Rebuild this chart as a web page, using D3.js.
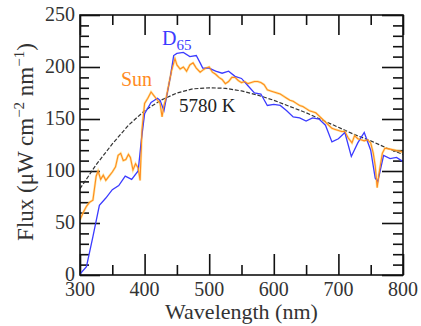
<!DOCTYPE html>
<html>
<head>
<meta charset="utf-8">
<script src="https://cdn.jsdelivr.net/npm/d3@7"></script>
<style>
  body { margin: 0; background: #fff; }
  svg { display: block; }
  text { font-family: "Liberation Serif", "DejaVu Serif", serif; }
</style>
</head>
<body>
<svg id="chart" width="421" height="326"></svg>
<script>
// wavelength (nm) / flux values
var d65Wl   = [300,310,320,330,340,350,360,370,380,390,395,400,410,420,424,430,440,445,450,460,470,480,486,490,500,510,520,530,540,550,560,570,580,590,600,610,620,630,640,650,660,670,680,690,700,710,720,730,740,750,757,761,770,780,790,800];
var d65Flux = [1,8,37,67,74,82,86,95,92,100,130,155,166,170,168,158,191,211,213,214,210,211,204,199,199,196,194,196,191,189,182,175,174,163,164,163,158,152,151,148,151,150,144,128,131,137,114,127,137,120,93,90,115,112,113,109];

var sunWl   = [300,305,310,315,320,325,328,332,336,340,345,350,355,359,363,367,371,375,378,382,386,390,393,396,400,405,410,415,420,424,427,430,434,438,442,447,450,455,460,465,470,475,480,486,490,495,500,505,510,515,520,525,530,535,540,545,550,555,560,565,570,575,580,585,590,595,600,605,610,615,620,625,630,635,640,645,650,655,660,665,670,675,680,685,690,695,700,705,710,715,721,725,730,735,740,745,750,754,757,760,763,768,772,780,788,795,800];
var sunFlux = [53,60,66,70,72,95,100,92,96,91,95,99,104,115,117,110,111,116,113,101,107,103,91,140,165,170,176,172,168,165,152,163,172,185,197,208,202,198,200,196,202,204,199,195,197,199,200,195,193,190,188,184,186,190,190,187,185,186,184,185,186,186,185,183,178,177,176,175,174,172,170,168,167,165,163,162,160,158,157,156,153,150,147,144,141,140,139,138,138,132,127,134,131,130,129,130,127,117,105,84,98,117,122,121,120,119,118];

var bbWl   = [300,325,350,375,400,425,450,475,500,525,550,575,600,625,650,675,700,725,750,775,800];
var bbFlux = [83,106,126,144,158,168,175,179,180,179.5,177,173,168,162,156,149,142,135,129,122,116];

var xMajor = [300,400,500,600,700,800];
var yMajor = [0,50,100,150,200,250];

var svg = d3.select("#chart");
// plot box (window.top is read-only, so no bare "top")
var box = { left: 80, right: 403, top: 15, bottom: 275 };

var x = d3.scaleLinear().domain([300, 800]).range([box.left, box.right]);
var y = d3.scaleLinear().domain([0, 250]).range([box.bottom, box.top]);

var xMinor = d3.range(350, 800, 100);
var yMinor = d3.range(0, 251, 10).filter(function(v) { return v % 50 != 0; });

// ticks pointing inwards on all four sides
function drawAxis(axis, tx, ty) {
  svg.append("g")
    .attr("transform", "translate(" + tx + "," + ty + ")")
    .call(axis)
    .call(function(g) {
      g.select(".domain").remove();
      g.selectAll("line").attr("stroke", "#111").attr("stroke-width", 1.6);
      g.selectAll("text").remove();
    });
}
drawAxis(d3.axisBottom(x).tickValues(xMajor).tickSize(-21), 0, box.bottom);
drawAxis(d3.axisBottom(x).tickValues(xMinor).tickSize(-10), 0, box.bottom);
drawAxis(d3.axisTop(x).tickValues(xMajor).tickSize(-20), 0, box.top);
drawAxis(d3.axisTop(x).tickValues(xMinor).tickSize(-10), 0, box.top);
drawAxis(d3.axisLeft(y).tickValues(yMajor).tickSize(-20), box.left, 0);
drawAxis(d3.axisLeft(y).tickValues(yMinor).tickSize(-9), box.left, 0);
drawAxis(d3.axisRight(y).tickValues(yMajor).tickSize(-21), box.right, 0);
drawAxis(d3.axisRight(y).tickValues(yMinor).tickSize(-10), box.right, 0);

// tick labels
svg.append("g").selectAll("text").data(xMajor).enter().append("text")
  .attr("x", function(d) { return x(d); })
  .attr("y", 296)
  .attr("text-anchor", "middle")
  .attr("font-size", 20)
  .attr("fill", "#333")
  .text(function(d) { return d; });

svg.append("g").selectAll("text").data(yMajor).enter().append("text")
  .attr("x", 75)
  .attr("y", function(d) { return y(d) + 6; })
  .attr("text-anchor", "end")
  .attr("font-size", 20)
  .attr("fill", "#333")
  .text(function(d) { return d; });

// curves
svg.append("clipPath").attr("id", "plotclip")
  .append("rect")
  .attr("x", box.left).attr("y", box.top)
  .attr("width", box.right - box.left).attr("height", box.bottom - box.top);

var plot = svg.append("g").attr("clip-path", "url(#plotclip)");

function lineOf(wl, flux) {
  return d3.line()
    .x(function(d, i) { return x(wl[i]); })
    .y(function(d) { return y(d); })(flux);
}

plot.append("path")
  .attr("d", lineOf(bbWl, bbFlux))
  .attr("fill", "none")
  .attr("stroke", "#333")
  .attr("stroke-width", 1.2)
  .attr("stroke-dasharray", "4,1.8");

plot.append("path")
  .attr("d", lineOf(sunWl, sunFlux))
  .attr("fill", "none")
  .attr("stroke", "#ffd966")
  .attr("stroke-width", 2.4)
  .attr("stroke-opacity", 0.6);

plot.append("path")
  .attr("d", lineOf(d65Wl, d65Flux))
  .attr("fill", "none")
  .attr("stroke", "#3b3bff")
  .attr("stroke-width", 1.3);

plot.append("path")
  .attr("d", lineOf(sunWl, sunFlux))
  .attr("fill", "none")
  .attr("stroke", "#ff8a1e")
  .attr("stroke-width", 1.1);

// frame
svg.append("rect")
  .attr("x", box.left).attr("y", box.top)
  .attr("width", box.right - box.left).attr("height", box.bottom - box.top)
  .attr("fill", "none")
  .attr("stroke", "#111")
  .attr("stroke-width", 1.6);

// series labels
var d65Label = svg.append("text")
  .attr("x", 162).attr("y", 45)
  .attr("font-size", 20)
  .attr("fill", "#3b3bff")
  .text("D");
d65Label.append("tspan").attr("dy", 5).attr("font-size", 15).text("65");

svg.append("text")
  .attr("x", 121).attr("y", 86)
  .attr("font-size", 20)
  .attr("fill", "#ff8a1e")
  .text("Sun");

svg.append("text")
  .attr("x", 179).attr("y", 112)
  .attr("font-size", 19)
  .attr("fill", "#222")
  .text("5780 K");

// axis titles
svg.append("text")
  .attr("x", (box.left + box.right) / 2)
  .attr("y", 319)
  .attr("text-anchor", "middle")
  .attr("font-size", 22)
  .attr("fill", "#333")
  .text("Wavelength (nm)");

var yTitle = svg.append("text")
  .attr("transform", "translate(33,142) rotate(-90)")
  .attr("text-anchor", "middle")
  .attr("font-size", 23)
  .attr("fill", "#333");
yTitle.append("tspan").text("Flux (\u03bcW cm");
yTitle.append("tspan").attr("dy", -9).attr("font-size", 15).text("\u22122");
yTitle.append("tspan").attr("dy", 9).text(" nm");
yTitle.append("tspan").attr("dy", -9).attr("font-size", 15).text("\u22121");
yTitle.append("tspan").attr("dy", 9).text(")");
</script>
</body>
</html>
